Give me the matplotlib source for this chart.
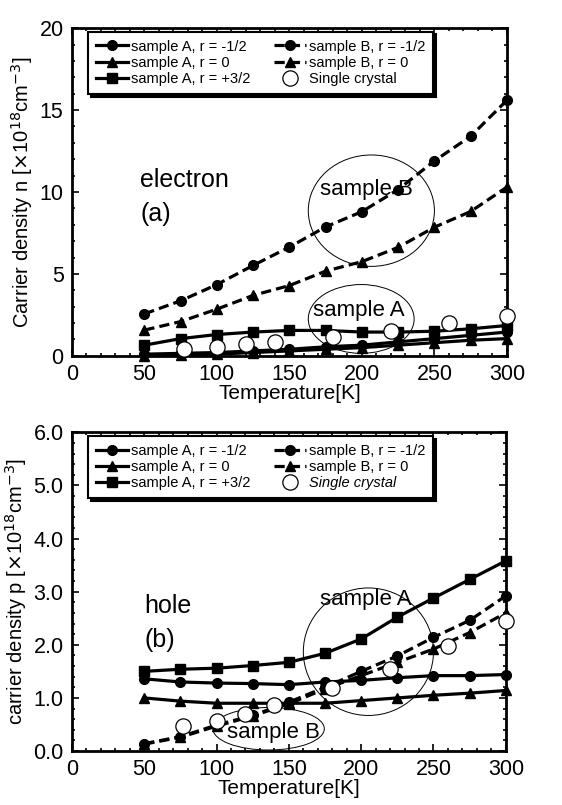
import numpy as np
import matplotlib
matplotlib.use('Agg')
import matplotlib.pyplot as plt
from matplotlib.patches import Ellipse
from matplotlib.ticker import MultipleLocator, FormatStrFormatter

plt.rcParams['font.family'] = ['Liberation Sans', 'DejaVu Sans']

# Temperaturas de los ajustes
T = [50, 75, 100, 125, 150, 175, 200, 225, 250, 275, 300]
# Temperaturas del monocristal
T_cristal = [77, 100, 120, 140, 180, 220, 260, 300]

# (a) electrones, n [x10^18 cm^-3]
n_A_menos12 = [0.1, 0.15, 0.2, 0.3, 0.4, 0.55, 0.65, 0.85, 1.05, 1.25, 1.45]
n_A_cero = [0.0, 0.05, 0.1, 0.2, 0.3, 0.4, 0.5, 0.65, 0.8, 0.95, 1.05]
n_A_mas32 = [0.65, 1.05, 1.3, 1.45, 1.55, 1.55, 1.45, 1.45, 1.5, 1.65, 1.85]
n_B_menos12 = [2.56, 3.36, 4.35, 5.52, 6.64, 7.87, 8.8, 10.15, 11.9, 13.4, 15.6]
n_B_cero = [1.57, 2.09, 2.85, 3.69, 4.29, 5.17, 5.75, 6.62, 7.85, 8.81, 10.3]
n_cristal = [0.44, 0.54, 0.71, 0.85, 1.12, 1.51, 1.99, 2.44]

# (b) huecos, p [x10^18 cm^-3]
p_A_menos12 = [1.36, 1.30, 1.28, 1.27, 1.25, 1.30, 1.33, 1.38, 1.42, 1.42, 1.44]
p_A_cero = [1.0, 0.94, 0.90, 0.90, 0.90, 0.90, 0.95, 1.0, 1.05, 1.09, 1.14]
p_A_mas32 = [1.50, 1.54, 1.56, 1.61, 1.67, 1.84, 2.11, 2.52, 2.88, 3.23, 3.58]
p_B_menos12 = [0.14, 0.27, 0.49, 0.67, 0.92, 1.2, 1.50, 1.79, 2.14, 2.46, 2.92]
p_B_cero = [0.13, 0.26, 0.47, 0.66, 0.89, 1.17, 1.42, 1.67, 1.92, 2.23, 2.60]
p_cristal = [0.47, 0.57, 0.70, 0.86, 1.19, 1.55, 1.98, 2.45]

etiquetas = ['sample A, r = -1/2', 'sample A, r = 0', 'sample A, r = +3/2',
             'sample B, r = -1/2', 'sample B, r = 0', 'Single crystal']


def dibujar_panel(ax, series, cristal, italica):
    marcadores = ['o', '^', 's', 'o', '^']
    estilos = ['-', '-', '-', (0, (3.2, 1.6)), (0, (3.2, 1.6))]
    handles = []
    for y, m, ls, lab in zip(series, marcadores, estilos, etiquetas[:5]):
        l, = ax.plot(T, y, color='k', lw=2.3, ls=ls, marker=m, ms=7, label=lab, clip_on=False)
        handles.append(l)
    c, = ax.plot(T_cristal, cristal, ls='none', marker='o', ms=11, mfc='white',
                 mec='k', mew=0.9, label=etiquetas[5], zorder=5, clip_on=False)
    handles.append(c)
    leg = ax.legend(handles, etiquetas, ncol=2, loc='upper left',
                    bbox_to_anchor=(0.02, 1.012), fontsize=10.5, frameon=True, fancybox=False,
                    shadow={'color': 'k', 'alpha': 1}, handlelength=2.2, handletextpad=0.2,
                    columnspacing=1.6, labelspacing=0.15, borderpad=0.55, edgecolor='k')
    leg.get_frame().set_linewidth(1.5)
    if italica:
        leg.get_texts()[5].set_style('italic')
    ax.set_xlim(0, 300)
    ax.xaxis.set_major_locator(MultipleLocator(50))
    ax.xaxis.set_minor_locator(MultipleLocator(10))
    ax.tick_params(which='both', direction='in', top=True, right=True, width=1.2)
    ax.tick_params(which='major', length=5, labelsize=15.5, pad=6)
    ax.tick_params(which='minor', length=2.5)
    for s in ax.spines.values():
        s.set_linewidth(2)
    ax.set_xlabel('Temperature[K]', fontsize=15, labelpad=-1)


fig = plt.figure(figsize=(5.62, 8.05), dpi=100)

# Panel (a)
ax1 = fig.add_axes([0.128, 0.558, 0.774, 0.407])
dibujar_panel(ax1, [n_A_menos12, n_A_cero, n_A_mas32, n_B_menos12, n_B_cero], n_cristal, False)
ax1.set_ylim(0, 20)
ax1.yaxis.set_major_locator(MultipleLocator(5))
ax1.yaxis.set_minor_locator(MultipleLocator(1))
ax1.set_ylabel(r'Carrier density n [$\times$10$^{18}$cm$^{-3}$]', fontsize=14.5, labelpad=3)
ax1.text(47, 10.3, 'electron', fontsize=18)
ax1.text(47, 8.2, '(a)', fontsize=18)
ax1.add_patch(Ellipse((206.5, 8.86), 87, 6.8, fill=False, lw=0.7, color='k'))
ax1.text(203, 9.8, 'sample B', fontsize=16, ha='center')
ax1.add_patch(Ellipse((199.5, 2.25), 73, 4.2, fill=False, lw=0.7, color='k'))
ax1.text(198, 2.45, 'sample A', fontsize=16, ha='center')

# Panel (b)
ax2 = fig.add_axes([0.128, 0.067, 0.772, 0.396])
dibujar_panel(ax2, [p_A_menos12, p_A_cero, p_A_mas32, p_B_menos12, p_B_cero], p_cristal, True)
ax2.set_ylim(0, 6)
ax2.yaxis.set_major_locator(MultipleLocator(1))
ax2.yaxis.set_minor_locator(MultipleLocator(0.2))
ax2.yaxis.set_major_formatter(FormatStrFormatter('%.1f'))
ax2.set_ylabel(r'carrier density p [$\times$10$^{18}$cm$^{-3}$]', fontsize=14.5, labelpad=3)
ax2.text(50, 2.6, 'hole', fontsize=18)
ax2.text(50, 1.95, '(b)', fontsize=18)
ax2.add_patch(Ellipse((205, 1.87), 90, 2.4, fill=False, lw=0.7, color='k'))
ax2.text(203, 2.75, 'sample A', fontsize=16, ha='center')
ax2.add_patch(Ellipse((136, 0.42), 77, 0.8, fill=False, lw=0.7, color='k'))
ax2.text(139, 0.25, 'sample B', fontsize=16, ha='center')

fig.savefig('out.png', dpi=100)
